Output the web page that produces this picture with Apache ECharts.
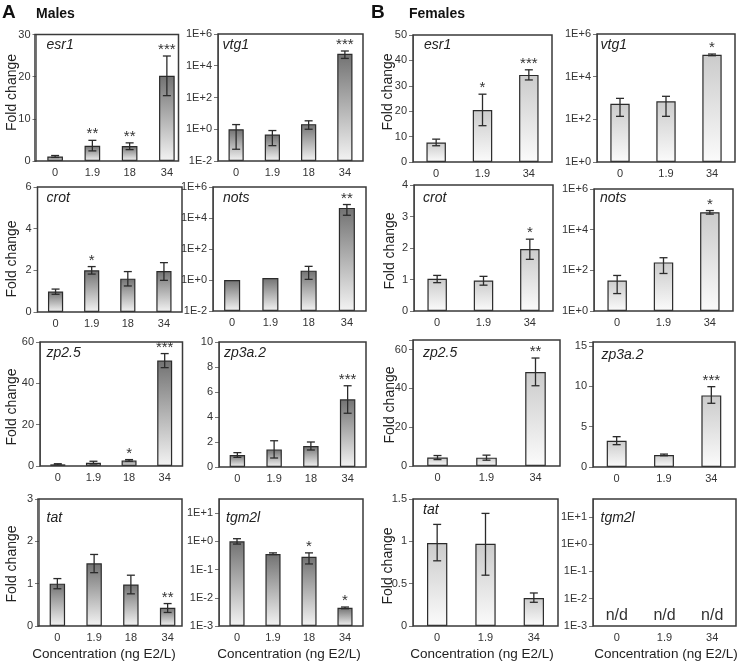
<!DOCTYPE html>
<html><head><meta charset="utf-8">
<script src="https://cdn.jsdelivr.net/npm/echarts@6/dist/echarts.min.js"></script>
<style>html,body{margin:0;padding:0;background:#fff}#c{width:739px;height:663px}</style>
</head><body><div id="c"></div>
<script>
// ---------- categories ----------
const maleConc = ['0', '1.9', '18', '34'];
const femaleConc = ['0', '1.9', '34'];

// ---------- Males ----------
const mEsr1 = [1.05, 3.6, 3.55, 20.2];
const mEsr1Lo = [0.85, 2.4, 2.7, 15.5];
const mEsr1Hi = [1.3, 4.9, 4.3, 24.9];
const mEsr1Sig = ['', '**', '**', '***'];

const mVtg1 = [1.0, 0.46, 2.1, 57000];
const mVtg1Lo = [0.055, 0.093, 1.0, 29000];
const mVtg1Hi = [1.97, 0.83, 3.4, 85000];
const mVtg1Sig = ['', '', '', '***'];

const mCrot = [0.98, 2.0, 1.6, 1.97];
const mCrotLo = [0.85, 1.82, 1.25, 1.52];
const mCrotHi = [1.1, 2.18, 1.94, 2.37];
const mCrotSig = ['', '*', '', ''];

const mNots = [1.0, 1.35, 4.0, 45000];
const mNotsLo = [null, null, 1.1, 15000];
const mNotsHi = [null, null, 7.6, 74000];
const mNotsSig = ['', '', '', '**'];

const mZp25 = [0.8, 1.6, 2.7, 51.0];
const mZp25Lo = [0.5, 1.0, 2.3, 47.6];
const mZp25Hi = [1.1, 2.3, 3.1, 54.4];
const mZp25Sig = ['', '', '*', '***'];

const mZp3a2 = [0.96, 1.41, 1.68, 5.41];
const mZp3a2Lo = [0.77, 0.72, 1.36, 4.3];
const mZp3a2Hi = [1.15, 2.1, 2.0, 6.5];
const mZp3a2Sig = ['', '', '', '***'];

const mTat = [1.0, 1.48, 0.98, 0.43];
const mTatLo = [0.88, 1.26, 0.76, 0.32];
const mTatHi = [1.12, 1.69, 1.2, 0.53];
const mTatSig = ['', '', '', '**'];

const mTgm2l = [1.0, 0.355, 0.285, 0.0044];
const mTgm2lLo = [0.8, 0.34, 0.158, 0.0041];
const mTgm2lHi = [1.24, 0.39, 0.39, 0.0047];
const mTgm2lSig = ['', '', '*', '*'];

// ---------- Females ----------
const fEsr1 = [7.7, 20.5, 34.3];
const fEsr1Lo = [6.4, 14.3, 32.3];
const fEsr1Hi = [9.0, 26.7, 36.3];
const fEsr1Sig = ['', '*', '***'];

const fVtg1 = [540, 700, 107000];
const fVtg1Lo = [138, 138, 96000];
const fVtg1Hi = [960, 1200, 115000];
const fVtg1Sig = ['', '', '*'];

const fCrot = [1.02, 0.97, 1.97];
const fCrotLo = [0.9, 0.82, 1.64];
const fCrotHi = [1.13, 1.1, 2.28];
const fCrotSig = ['', '', '*'];

const fNots = [31.6, 245, 72000];
const fNotsLo = [7.2, 70, 58000];
const fNotsHi = [56, 417, 87000];
const fNotsSig = ['', '', '*'];

const fZp25 = [4.35, 4.3, 48.5];
const fZp25Lo = [3.3, 3.0, 41.4];
const fZp25Hi = [5.4, 5.6, 55.7];
const fZp25Sig = ['', '', '**'];

const fZp3a2 = [3.26, 1.49, 8.88];
const fZp3a2Lo = [2.77, 1.4, 7.9];
const fZp3a2Hi = [3.76, 1.6, 9.96];
const fZp3a2Sig = ['', '', '***'];

const fTat = [0.98, 0.97, 0.33];
const fTatLo = [0.77, 0.6, 0.28];
const fTatHi = [1.2, 1.33, 0.39];
const fTatSig = ['', '', ''];

const fTgm2lNote = ['n/d', 'n/d', 'n/d'];

// ---------- log-axis tick values ----------
const logTicksWide = [1e-2, 1, 1e2, 1e4, 1e6];
const logTicksF = [1, 1e2, 1e4, 1e6];
const logTicksTgm = [1e-3, 1e-2, 1e-1, 1, 10];

// ---------- panels (axis scales + layout) ----------
const FONT = '"Liberation Sans", Arial, Helvetica, sans-serif';
const panels = [
  {gene:'esr1', cats:maleConc, v:mEsr1, lo:mEsr1Lo, hi:mEsr1Hi, sig:mEsr1Sig, sex:'m', log:false, min:0, max:30, step:10,
   box:[35,34.5,178.5,161], plot:[36.5,185.5], gl:[46.5,45], fc:[12,92.5]},
  {gene:'vtg1', cats:maleConc, v:mVtg1, lo:mVtg1Lo, hi:mVtg1Hi, sig:mVtg1Sig, sex:'m', log:true, min:1e-2, max:1e6, ticks:logTicksWide,
   box:[218,34,363,161], gl:[222.5,45]},
  {gene:'esr1', cats:femaleConc, v:fEsr1, lo:fEsr1Lo, hi:fEsr1Hi, sig:fEsr1Sig, sex:'f', log:false, min:0, max:50, step:10,
   box:[413,35,552,162], gl:[424,45], fc:[388,92]},
  {gene:'vtg1', cats:femaleConc, v:fVtg1, lo:fVtg1Lo, hi:fVtg1Hi, sig:fVtg1Sig, sex:'f', log:true, min:1, max:1e6, ticks:logTicksF,
   box:[597,34,735,162], gl:[600.5,45]},

  {gene:'crot', cats:maleConc, v:mCrot, lo:mCrotLo, hi:mCrotHi, sig:mCrotSig, sex:'m', log:false, min:0, max:6, step:2,
   box:[37.5,187,182,312], gl:[46.5,198], fc:[12,259]},
  {gene:'nots', cats:maleConc, v:mNots, lo:mNotsLo, hi:mNotsHi, sig:mNotsSig, sex:'m', log:true, min:1e-2, max:1e6, ticks:logTicksWide,
   box:[213,187,366,311], gl:[223,198]},
  {gene:'crot', cats:femaleConc, v:fCrot, lo:fCrotLo, hi:fCrotHi, sig:fCrotSig, sex:'f', log:false, min:0, max:4, step:1,
   box:[414,185,553,311], gl:[423,198], fc:[390,251]},
  {gene:'nots', cats:femaleConc, v:fNots, lo:fNotsLo, hi:fNotsHi, sig:fNotsSig, sex:'f', log:true, min:1, max:1e6, ticks:logTicksF,
   box:[594,189,733,311], gl:[600,198]},

  {gene:'zp2.5', cats:maleConc, v:mZp25, lo:mZp25Lo, hi:mZp25Hi, sig:mZp25Sig, sex:'m', log:false, min:0, max:60, step:20,
   box:[40,342,182.5,466], gl:[46.5,353], fc:[12,407]},
  {gene:'zp3a.2', cats:maleConc, v:mZp3a2, lo:mZp3a2Lo, hi:mZp3a2Hi, sig:mZp3a2Sig, sex:'m', log:false, min:0, max:10, step:2,
   box:[219,342,366,467], gl:[224,353]},
  {gene:'zp2.5', cats:femaleConc, v:fZp25, lo:fZp25Lo, hi:fZp25Hi, sig:fZp25Sig, sex:'f', log:false, min:0, max:65, step:20,
   box:[413,340,560,466], gl:[423,353], fc:[390,405]},
  {gene:'zp3a.2', cats:femaleConc, v:fZp3a2, lo:fZp3a2Lo, hi:fZp3a2Hi, sig:fZp3a2Sig, sex:'f', log:false, min:0, max:15.5, step:5,
   box:[593,342,735,467], gl:[601.5,355]},

  {gene:'tat', cats:maleConc, v:mTat, lo:mTatLo, hi:mTatHi, sig:mTatSig, sex:'m', log:false, min:0, max:3, step:1,
   box:[38,499,182,626], plot:[39,186], gl:[46.5,518], fc:[12,564], cx:104},
  {gene:'tgm2l', cats:maleConc, v:mTgm2l, lo:mTgm2lLo, hi:mTgm2lHi, sig:mTgm2lSig, sex:'m', log:true, min:1e-3, max:Math.pow(10,1.5), ticks:logTicksTgm,
   box:[219,499,363,626], gl:[226,518], cx:289},
  {gene:'tat', cats:femaleConc, v:fTat, lo:fTatLo, hi:fTatHi, sig:fTatSig, sex:'f', log:false, min:0, max:1.5, step:0.5,
   box:[413,499,558,626], gl:[423,510], fc:[388,566], cx:482},
  {gene:'tgm2l', cats:femaleConc, v:null, note:fTgm2lNote, sex:'f', log:true, min:1e-3, max:Math.pow(10,1.65), ticks:logTicksTgm,
   box:[593,499,736,626], gl:[600.5,518], cx:666}
];

const grids = [], xAxes = [], yAxes = [], series = [], gfx = [];
const AX = '#777', INK = '#333';

function logFmt(v) {
  const e = Math.log10(v), r = Math.round(e);
  if (Math.abs(e - r) > 1e-6) return '';
  return '1E' + (r >= 0 ? '+' : '-') + Math.abs(r);
}
function linLabel(step) {
  return function (v) {
    const q = v / step;
    return Math.abs(q - Math.round(q)) < 1e-6 ? String(+v.toFixed(3)) : '';
  };
}

panels.forEach(function (p, k) {
  const bl = p.box[0], bt = p.box[1], br = p.box[2], bb = p.box[3];
  const pl = p.plot ? p.plot[0] : bl, pr = p.plot ? p.plot[1] : br;
  grids.push({left: pl, top: bt, width: pr - pl, height: bb - bt, show: false});
  xAxes.push({
    type: 'category', gridIndex: k, data: p.cats, boundaryGap: true,
    axisLine: {show: false}, axisTick: {show: false},
    axisLabel: {fontSize: 11, color: INK, margin: 6, fontFamily: FONT, interval: 0}
  });
  const y = {
    gridIndex: k, min: p.min, max: p.max, splitLine: {show: false},
    axisLine: {show: true, onZero: false, lineStyle: {color: AX, width: 1}},
    axisTick: {show: true, length: 4, lineStyle: {color: AX}},
    axisLabel: {fontSize: 11, color: INK, margin: 6, fontFamily: FONT}
  };
  if (p.log) {
    y.type = 'log'; y.logBase = 10; y.startValue = p.min;
    y.axisTick.customValues = p.ticks;
    y.axisLabel.customValues = p.ticks;
    y.axisLabel.formatter = logFmt;
  } else {
    y.type = 'value'; y.interval = p.step;
    y.axisLabel.formatter = linLabel(p.step);
  }
  yAxes.push(y);

  const top = p.sex === 'm' ? '#727272' : '#cbcbcb';
  const bot = p.sex === 'm' ? '#f3f3f3' : '#fbfbfb';
  if (p.v) {
    series.push({
      type: 'bar', xAxisIndex: k, yAxisIndex: k, data: p.v, barWidth: '42%',
      silent: true, animation: false,
      itemStyle: {
        borderColor: '#2b2b2b', borderWidth: 1.2,
        color: new echarts.graphic.LinearGradient(0, 0, 0, 1, [{offset: 0, color: top}, {offset: 1, color: bot}])
      }
    });
    const lo = p.lo, hi = p.hi, sig = p.sig, vals = p.v;
    series.push({
      type: 'custom', xAxisIndex: k, yAxisIndex: k, silent: true, animation: false, z: 5, clip: false,
      data: p.cats.map(function (c, i) { return [i, vals[i]]; }),
      encode: {x: 0, y: 1},
      renderItem: function (params, api) {
        const i = params.dataIndex;
        const x = api.coord([i, vals[i]])[0];
        const ch = [];
        let topY = api.coord([i, vals[i]])[1];
        if (lo[i] != null && hi[i] != null) {
          const yl = api.coord([i, lo[i]])[1], yh = api.coord([i, hi[i]])[1];
          const st = {stroke: '#2b2b2b', lineWidth: 1.3};
          ch.push({type: 'line', shape: {x1: x, y1: yl, x2: x, y2: yh}, style: st});
          ch.push({type: 'line', shape: {x1: x - 4, y1: yl, x2: x + 4, y2: yl}, style: st});
          ch.push({type: 'line', shape: {x1: x - 4, y1: yh, x2: x + 4, y2: yh}, style: st});
          topY = yh;
        }
        if (sig[i]) {
          ch.push({type: 'text', x: x, y: topY - 6,
            style: {text: sig[i], align: 'center', verticalAlign: 'middle', fill: INK,
                    font: '15px ' + FONT}});
        }
        return {type: 'group', children: ch};
      }
    });
  } else {
    const note = p.note, mn = p.min;
    series.push({
      type: 'custom', xAxisIndex: k, yAxisIndex: k, silent: true, animation: false, clip: false,
      data: p.cats.map(function (c, i) { return [i, mn]; }),
      encode: {x: 0, y: 1},
      renderItem: function (params, api) {
        const i = params.dataIndex;
        const pt = api.coord([i, mn]);
        return {type: 'text', x: pt[0], y: pt[1] - 2,
          style: {text: note[i], align: 'center', verticalAlign: 'bottom', fill: INK, font: '16px ' + FONT}};
      }
    });
  }

  // frame box
  gfx.push({type: 'rect', z: 100, silent: true,
    shape: {x: bl, y: bt, width: br - bl, height: bb - bt},
    style: {fill: null, stroke: '#3a3a3a', lineWidth: 1.5}});
  // gene name
  gfx.push({type: 'text', z: 100, x: p.gl[0], y: p.gl[1],
    style: {text: p.gene, fill: '#222', font: 'italic 14px ' + FONT, verticalAlign: 'middle', align: 'left'}});
  if (p.fc) {
    gfx.push({type: 'text', z: 100, x: p.fc[0], y: p.fc[1], rotation: Math.PI / 2,
      style: {text: 'Fold change', fill: '#222', font: '14px ' + FONT, align: 'center', verticalAlign: 'middle'}});
  }
  if (p.cx) {
    gfx.push({type: 'text', z: 100, x: p.cx, y: 654,
      style: {text: 'Concentration (ng E2/L)', fill: '#222', font: '13.5px ' + FONT, align: 'center', verticalAlign: 'middle'}});
  }
});

gfx.push({type: 'text', x: 2, y: 13, style: {text: 'A', fill: '#111', font: 'bold 19px ' + FONT, verticalAlign: 'middle'}});
gfx.push({type: 'text', x: 36, y: 14, style: {text: 'Males', fill: '#111', font: 'bold 14px ' + FONT, verticalAlign: 'middle'}});
gfx.push({type: 'text', x: 371, y: 13, style: {text: 'B', fill: '#111', font: 'bold 19px ' + FONT, verticalAlign: 'middle'}});
gfx.push({type: 'text', x: 409, y: 14, style: {text: 'Females', fill: '#111', font: 'bold 14px ' + FONT, verticalAlign: 'middle'}});

const chart = echarts.init(document.getElementById('c'));
chart.setOption({
  animation: false,
  backgroundColor: '#fff',
  textStyle: {fontFamily: FONT},
  grid: grids, xAxis: xAxes, yAxis: yAxes, series: series,
  graphic: {elements: gfx}
});
</script>
</body></html>
